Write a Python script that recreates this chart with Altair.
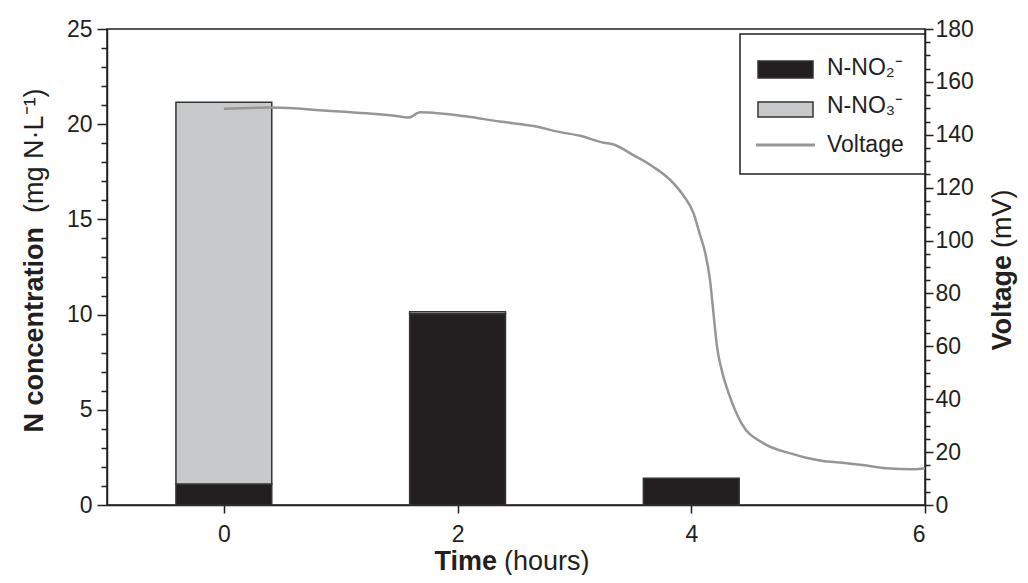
import altair as alt
import pandas as pd

# ---- data ----
times = [0, 2, 4]
no2 = [1.1, 10.05, 1.4]
no3 = [20.05, 0.1, 0.0]

v_time = [0, 0.41, 0.88, 1.22, 1.51, 1.58, 1.68, 2.08, 2.36, 2.65, 2.88, 3.05,
          3.25, 3.33, 3.50, 3.67, 3.82, 3.93, 4.02, 4.07, 4.12, 4.16, 4.19, 4.22,
          4.26, 4.33, 4.43, 4.62, 4.84, 5.10, 5.33, 5.50, 5.67, 5.90, 6.0]
v_mv = [149.8, 150.3, 149.1, 148.1, 146.9, 146.5, 148.5, 146.9, 145.0, 143.3, 141.0, 139.6,
        137.0, 136.4, 132.4, 128.0, 122.9, 117.2, 110.3, 102.8, 95.2, 85.1, 72.5, 59.9,
        51.1, 41.0, 30.9, 23.3, 19.6, 16.8, 15.8, 14.9, 13.9, 13.5, 13.9]

x_ticks = [0, 2, 4, 6]
legend_labels = ["N-NO\u2082\u207b", "N-NO\u2083\u207b", "Voltage"]

# ---- styles ----
FONT = "Liberation Sans"
INK = "#231f20"
NO2_COLOR = "#231f20"
NO3_COLOR = "#c8c9cb"
LINE_COLOR = "#969696"
W, H = 818, 476
BAR_HALF = 0.41
TICK_FS = 23
TITLE_FS = 27
LEG_FS = 23

rows = []
for t, a, b in zip(times, no2, no3):
    rows.append({"time": t, "species": legend_labels[0], "value": a, "order": 0})
    if b > 0:
        rows.append({"time": t, "species": legend_labels[1], "value": b, "order": 1})
bars_df = pd.DataFrame(rows)
volt_df = pd.DataFrame({"time": v_time, "voltage": v_mv})

x_scale = alt.Scale(domain=[-1, 6], nice=False, zero=False)
x_axis = alt.Axis(values=x_ticks, tickSize=8, labelPadding=10, labelFontSize=TICK_FS,
                  title=None, grid=False, format="d")

left_axis = alt.Axis(
    orient="left", values=list(range(0, 26)), title=None, grid=False,
    labelExpr="datum.value % 5 === 0 ? datum.label : ''",
    tickSize={"condition": {"test": "datum.value % 5 === 0", "value": 10}, "value": 6},
    labelPadding=5, labelFontSize=TICK_FS,
)
right_axis = alt.Axis(
    orient="right", values=list(range(0, 181, 5)), title=None, grid=False,
    labelExpr="datum.value % 20 === 0 ? datum.label : ''",
    tickSize={"condition": {"test": "datum.value % 20 === 0", "value": 8}, "value": 5},
    labelPadding=2, labelFontSize=TICK_FS,
)

bars = alt.Chart(bars_df).transform_stack(
    stack="value", groupby=["time"], as_=["y0", "y1"],
    sort=[alt.SortField(field="order", order="ascending")],
).transform_calculate(
    x0=f"datum.time - {BAR_HALF}", x1=f"datum.time + {BAR_HALF}"
).mark_bar(stroke="#333333", strokeWidth=1.5).encode(
    x=alt.X("x0:Q", scale=x_scale, axis=x_axis),
    x2="x1:Q",
    y=alt.Y("y0:Q", scale=alt.Scale(domain=[0, 25], nice=False), axis=left_axis),
    y2="y1:Q",
    fill=alt.Fill("species:N",
                  scale=alt.Scale(domain=legend_labels[:2], range=[NO2_COLOR, NO3_COLOR]),
                  legend=None),
)

line = alt.Chart(volt_df).mark_line(color=LINE_COLOR, strokeWidth=2.5, interpolate="monotone").encode(
    x=alt.X("time:Q", scale=x_scale, axis=x_axis),
    y=alt.Y("voltage:Q", scale=alt.Scale(domain=[0, 180], nice=False), axis=right_axis),
)

one = alt.Data(values=[{}])


def txt(text, x, y, bold=False, size=TITLE_FS, angle=0, align="left", baseline="alphabetic"):
    return alt.Chart(one).mark_text(
        text=text, font=FONT, fontSize=size, fontWeight="bold" if bold else "normal",
        angle=angle, align=align, baseline=baseline, color=INK,
    ).encode(x=alt.value(x), y=alt.value(y))


titles = [
    # left title
    txt("N concentration", -64, 198, bold=True, angle=270, align="right"),
    txt("(mg N\u00b7L\u207b\u00b9)", -64, 184, angle=270, align="left"),
    # bottom title
    txt("Time", 390, 541, bold=True, align="right"),
    txt("(hours)", 397, 541, align="left"),
    # right title
    txt("Voltage", 904, 226, bold=True, angle=270, align="right"),
    txt("(mV)", 904, 219, angle=270, align="left"),
]

legend_box = alt.Chart(one).mark_rect(fill="white", stroke=INK, strokeWidth=1.5).encode(
    x=alt.value(633), x2=alt.value(818), y=alt.value(5), y2=alt.value(145))
sw_no2 = alt.Chart(one).mark_rect(fill=NO2_COLOR, stroke="#333333", strokeWidth=1.5).encode(
    x=alt.value(651), x2=alt.value(706), y=alt.value(32), y2=alt.value(49))
sw_no3 = alt.Chart(one).mark_rect(fill=NO3_COLOR, stroke="#333333", strokeWidth=1.5).encode(
    x=alt.value(651), x2=alt.value(706), y=alt.value(73), y2=alt.value(88))
sw_line = alt.Chart(one).mark_rule(color=LINE_COLOR, strokeWidth=3).encode(
    x=alt.value(649), x2=alt.value(708), y=alt.value(116))
leg_texts = [
    txt(legend_labels[0], 720, 46, size=LEG_FS),
    txt(legend_labels[1], 720, 84, size=LEG_FS),
    txt(legend_labels[2], 720, 123, size=LEG_FS),
]

chart = alt.layer(
    bars, line, legend_box, sw_no2, sw_no3, sw_line, *leg_texts, *titles
).resolve_scale(y="independent").properties(
    width=W, height=H,
    autosize=alt.AutoSizeParams(type="none"),
    padding={"left": 99, "top": 21, "right": 95, "bottom": 70},
).configure_view(
    stroke=INK, strokeWidth=1.5
).configure_axis(
    labelFont=FONT, labelColor=INK, domainColor=INK, tickColor=INK,
    domainWidth=1.5, tickWidth=1.5,
)

chart.save("out.html", embed_options={"renderer": "svg", "actions": False})
